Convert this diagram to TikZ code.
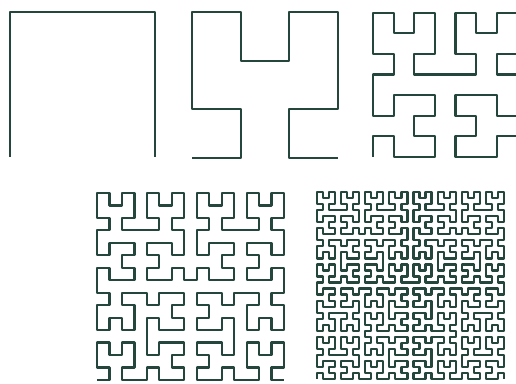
\documentclass[tikz,border=0pt]{standalone}
\usetikzlibrary{lindenmayersystems}
\definecolor{curvecol}{RGB}{36,70,60}
\pgfdeclarelindenmayersystem{hilbertcurve}{
  \rule{A -> +BF-AFA-FB+}
  \rule{B -> -AF+BFB+FA-}
}
\tikzset{hcurve/.style={draw=curvecol, line width=2.2pt, line join=round, line cap=butt}}
\begin{document}
\begin{tikzpicture}[x=1pt,y=1pt]
\useasboundingbox[fill=white] (0,0) rectangle (516,383);
% order 1
\begin{scope}[shift={(10,226)}]
\draw[hcurve, lindenmayer system={hilbertcurve, axiom=A, order=1, step=145pt, angle=90}] lindenmayer system;
\end{scope}
% order 2
\begin{scope}[shift={(192,225)}]
\draw[hcurve, lindenmayer system={hilbertcurve, axiom=A, order=2, step=48.67pt, angle=90}] lindenmayer system;
\end{scope}
% order 3
\begin{scope}[shift={(373,226)}]
\draw[hcurve, lindenmayer system={hilbertcurve, axiom=A, order=3, step=20.6pt, angle=90}] lindenmayer system;
\end{scope}
% order 4
\begin{scope}[shift={(97,3)}]
\draw[hcurve, lindenmayer system={hilbertcurve, axiom=A, order=4, step=12.47pt, angle=90}] lindenmayer system;
\end{scope}
% order 5
\begin{scope}[shift={(317,4)}]
\draw[hcurve, lindenmayer system={hilbertcurve, axiom=A, order=5, step=6.03pt, angle=90}] lindenmayer system;
\end{scope}
\end{tikzpicture}
\end{document}
